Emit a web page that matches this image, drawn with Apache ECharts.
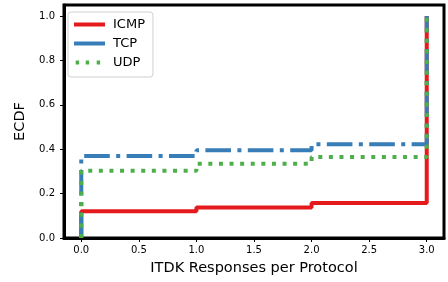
<!DOCTYPE html>
<html>
<head>
<meta charset="utf-8">
<script src="https://cdn.jsdelivr.net/npm/echarts@6/dist/echarts.min.js"></script>
<style>
  html, body { margin: 0; padding: 0; background: #fff; }
  #chart { width: 448px; height: 282px; }
</style>
</head>
<body>
<div id="chart"></div>
<script>
// ECDF 数据
var protocols = ['ICMP', 'TCP', 'UDP'];
var xValues = [0, 0, 1, 2, 3];
var icmpEcdf = [0, 0.120, 0.138, 0.158, 1.0];
var tcpEcdf = [0, 0.369, 0.396, 0.422, 1.0];
var udpEcdf = [0, 0.303, 0.335, 0.365, 1.0];
var xTicks = [0, 0.5, 1, 1.5, 2, 2.5, 3];
var yTicks = [0, 0.2, 0.4, 0.6, 0.8, 1.0];

function pairs(ys) {
  return xValues.map(function (x, i) { return [x, ys[i]]; });
}

var colors = ['#e41a1c', '#377eb8', '#4daf4a'];
var dashes = ['solid', [25.6, 6.4, 4, 6.4], [4, 6.6]];
var seriesData = [icmpEcdf, tcpEcdf, udpEcdf];
// 图例图标：实线和点线
var solidIcon = 'path://M0,0H31V4H0Z';
var dotIcon = 'path://M0,0L0,4M1.7,0h3.4v4h-3.4zM11.7,0h3.4v4h-3.4zM22.7,0h3.4v4h-3.4zM31,0L31,4';
var icons = [solidIcon, solidIcon, dotIcon];

var mychart = echarts.init(document.getElementById('chart'));
var font = 'DejaVu Sans';
var option = {
  animation: false,
  grid: {
    left: 64, right: 4, top: 5, bottom: 44,
    show: true, borderColor: '#000', borderWidth: 3
  },
  legend: {
    left: 68, top: 12,
    orient: 'vertical',
    itemWidth: 31, itemHeight: 4, itemGap: 6,
    padding: [6, 8, 8, 6],
    borderColor: '#d0d0d0', borderWidth: 1, borderRadius: 3,
    backgroundColor: 'rgba(255,255,255,0.8)',
    textStyle: { fontFamily: font, fontSize: 13, color: '#000', padding: [0, 0, 0, 3] },
    data: protocols.map(function (p, i) {
      return { name: p, icon: icons[i], itemStyle: { color: colors[i], borderWidth: 0 } };
    })
  },
  xAxis: {
    type: 'value',
    min: -0.15, max: 3.15,
    name: 'ITDK Responses per Protocol',
    nameLocation: 'middle', nameGap: 23,
    nameTextStyle: { fontFamily: font, fontSize: 14.5, color: '#000' },
    axisLine: { show: true, onZero: false, lineStyle: { color: '#000', width: 3 } },
    axisTick: { show: true, length: 4, lineStyle: { color: '#000', width: 1 }, customValues: xTicks },
    axisLabel: {
      fontFamily: font, fontSize: 10, color: '#000', margin: 7,
      customValues: xTicks,
      formatter: function (v) { return v.toFixed(1); }
    },
    splitLine: { show: false }
  },
  yAxis: {
    type: 'value',
    min: 0, max: 1.05,
    name: 'ECDF',
    nameLocation: 'middle', nameGap: 30,
    nameTextStyle: { fontFamily: font, fontSize: 14.5, color: '#000' },
    axisLine: { show: true, onZero: false, lineStyle: { color: '#000', width: 3 } },
    axisTick: { show: true, length: 4, lineStyle: { color: '#000', width: 1 }, customValues: yTicks },
    axisLabel: {
      fontFamily: font, fontSize: 10, color: '#000', margin: 9,
      customValues: yTicks,
      formatter: function (v) { return v.toFixed(1); }
    },
    splitLine: { show: false }
  },
  series: protocols.map(function (p, i) {
    return {
      name: p,
      type: 'line',
      step: 'end',
      symbol: 'none',
      data: pairs(seriesData[i]),
      itemStyle: { color: colors[i] },
      lineStyle: { color: colors[i], width: 4, type: dashes[i] },
      z: 2 + i
    };
  })
};
mychart.setOption(option);
</script>
</body>
</html>
